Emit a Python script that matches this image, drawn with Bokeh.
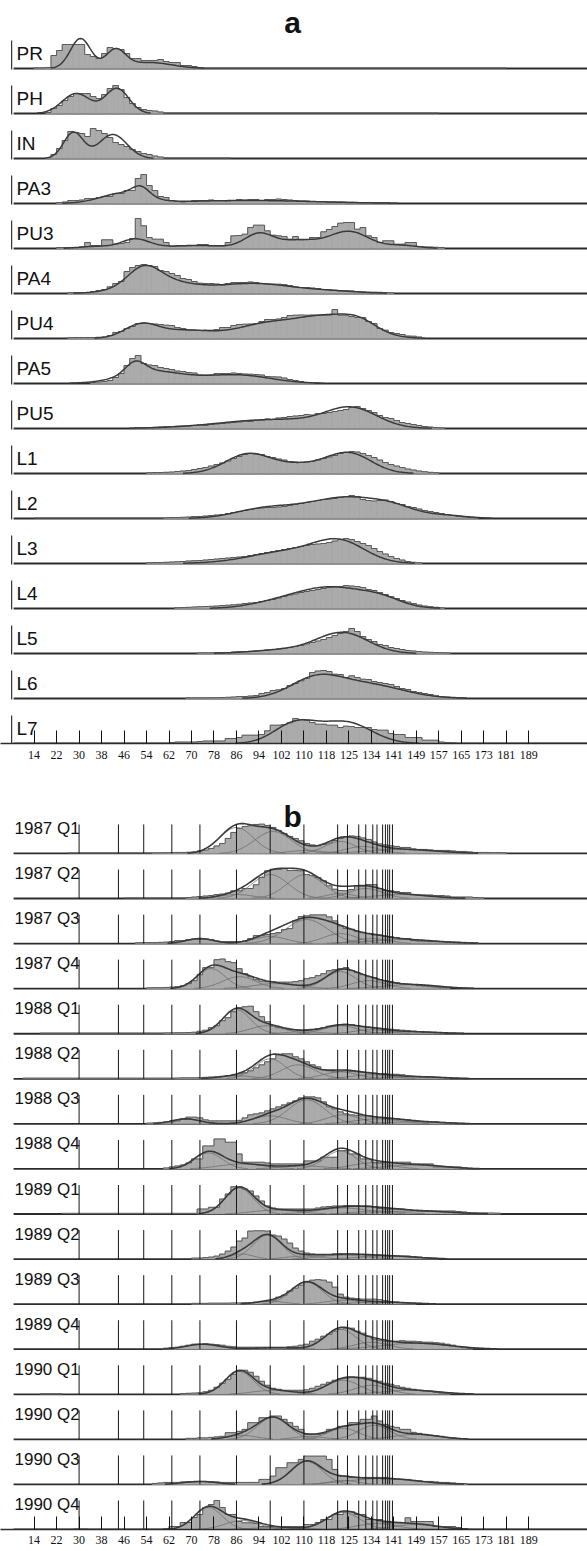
import numpy as np
from bokeh.plotting import figure
from bokeh.layouts import column
from bokeh.models import Range1d, FixedTicker
from bokeh.embed import file_html
from bokeh.resources import INLINE
from bokeh.core.properties import value

# ---------------------------------------------------------------
# Length-frequency data: 2-unit length bins, bar heights in px units.
# Each row: first bin edge, bin heights, fitted normal components
# (mean, sd, peak height).
# ---------------------------------------------------------------
BIN = 2.0

TICKS = [14, 22, 30, 38, 46, 54, 62, 70, 78, 86, 94, 102, 110, 118,
         126, 134, 142, 150, 158, 166, 174, 182, 190]
TICK_LABELS = ["14", "22", "30", "38", "46", "54", "62", "70", "78", "86",
               "94", "102", "110", "118", "125", "134", "141", "149", "157",
               "165", "173", "181", "189"]

# ---- panel a: length distributions by stage ----
PR_START = 14
PR_HIST = [0.6, 0.6, 1, 13, 18, 24, 24, 24, 24, 14, 12, 10, 15, 21, 20, 19, 15,
           10, 10, 8, 8, 8, 9, 7, 6, 6, 3, 3, 2, 1]
PR_FIT = [(30.5, 3.6, 30), (43, 3.5, 18), (55, 8, 6)]

PH_START = 18
PH_HIST = [1, 5, 8, 13, 17, 20, 20, 20, 17, 15, 19, 25, 28, 24, 16, 10, 6, 4,
           3, 2.5, 1.5]
PH_FIT = [(29, 5, 20), (43.5, 4.2, 25)]

IN_START = 18
IN_HIST = [0.8, 4, 10, 18, 27, 26, 25, 22, 30, 28, 25, 21, 16, 14, 12, 9, 7, 5,
           4, 2.5, 1.5]
IN_FIT = [(28, 3.5, 26), (42, 5, 24)]

PA3_START = 22
PA3_HIST = [1, 1.5, 3, 3, 3.5, 5, 5, 6, 7, 7, 10, 10, 13, 13, 25, 29, 18, 13, 7,
            6, 3, 2, 1.5, 2, 3, 3, 3, 3.5, 3, 3, 2.5, 3, 4, 3.5, 4, 4, 3, 4, 4,
            4.5, 4, 3.5, 3, 2.5, 2.5, 2, 2, 2, 1.5, 1.5, 1.5, 1.2, 1.2, 1, 1, 1,
            0.8, 0.8, 0.6]
PA3_FIT = [(52, 3, 9), (46, 8, 10), (90, 25, 3)]

PU3_START = 22
PU3_HIST = [1, 1, 1, 1, 1.5, 6, 3, 3, 8.7, 8.7, 4.3, 5, 6, 10, 30, 22.7, 11,
            9.3, 9.3, 6, 2, 2.5, 2.7, 2.7, 3, 4, 4, 2.7, 2.7, 2.7, 6, 12.7, 13,
            14.3, 21, 23.3, 23.3, 17.7, 13.3, 12.7, 12, 9.3, 12, 8.7, 9, 11, 11,
            16.7, 19, 22, 25.3, 26, 26, 19.3, 21, 12.7, 11, 6, 7.7, 7.7, 4.3,
            4.3, 6, 6, 2, 1.5, 1.5, 1.2, 1]
PU3_FIT = [(36, 6, 2), (50, 5, 9), (72, 12, 3), (94, 5, 14), (108, 7, 8),
           (126, 7, 17), (145, 6, 3)]

PA4_START = 26
PA4_HIST = [0.8, 1, 1, 1, 2, 3, 4, 6.7, 10, 12, 22, 26, 28, 29, 28, 27, 23, 22,
            20, 18, 15, 14, 12, 10.3, 10, 10, 9.5, 8.3, 10, 11, 11, 11, 11.5, 11,
            10, 9.5, 9.3, 9.3, 9, 8, 6.5, 6, 6, 5.5, 5, 4, 3.7, 3.2, 2.7, 2.7,
            2.5, 2, 1.5, 1.3, 1.3, 1.2, 1, 0.8]
PA4_FIT = [(53, 5.5, 16), (58, 11, 13), (92, 14, 10), (120, 10, 2)]

PU4_START = 26
PU4_HIST = [0.8, 1, 1, 1, 1, 1.2, 1.5, 3, 6, 7, 10, 12, 15, 15.5, 15, 14.5, 14,
            13.3, 13, 11, 10, 8.5, 8.3, 8, 8.3, 8.3, 9, 11, 11, 13, 14, 14.3,
            14.5, 15, 17, 19, 19, 19.5, 21, 23, 23.3, 23.5, 23.3, 23.5, 23.3,
            23.3, 23.5, 29, 23.3, 23.3, 22, 21, 21, 17, 15, 10, 8.3, 6, 5, 4,
            2.5, 2.3, 1.5]
PU4_FIT = [(52, 6, 13), (68, 10, 8), (95, 10, 12), (118, 12, 22), (130, 6, 8)]

PA5_START = 34
PA5_HIST = [1, 1.5, 2, 3, 6, 10, 18, 25, 28, 20, 18.5, 18, 16, 15, 14, 12.5, 12,
            11, 10.5, 8.5, 8.3, 8.5, 10, 10, 10, 10.5, 10, 9.5, 9.3, 9, 8.5, 7,
            6.7, 6.5, 5.5, 4, 3, 2, 1, 0.8]
PA5_FIT = [(50, 3.5, 12), (56, 11, 12), (86, 12, 8.5)]

PU5_START = 50
PU5_HIST = [0.8, 1, 1, 1.2, 1.5, 1.8, 2, 2.3, 2.5, 2.5, 3, 3.5, 3, 4, 4.5, 5,
            5.5, 6, 6.5, 7.5, 7, 8, 8.5, 9.5, 9, 10.5, 11, 12, 12.5, 13, 14, 13.5,
            15, 15, 16, 17, 18, 19, 21, 22, 20, 18, 16, 13, 11, 10, 8, 6, 5, 4,
            3, 2, 1.5, 1, 0.6]
PU5_FIT = [(100, 20, 9), (127, 9, 18)]

L1_START = 54
L1_HIST = [0.8, 1, 1, 1.2, 1.5, 2, 2.5, 3, 4, 5, 6, 7.5, 9, 10.5, 12.5, 15, 17,
           19, 20, 19.5, 19, 17, 16, 14.5, 13.5, 12, 11.5, 11, 11.5, 12, 13.5,
           15, 16.5, 18, 20, 21, 22, 21.5, 20, 18, 16, 13.5, 11, 9, 7.5, 6, 4.5,
           3.5, 2.5, 1.8, 1.2, 0.8]
L1_FIT = [(90, 8, 19), (108, 9, 8), (126, 8, 20)]

L2_START = 60
L2_HIST = [0.8, 1, 1, 1.2, 1.5, 2, 2, 2.5, 3, 3.5, 4, 5, 6, 7, 8, 9, 10, 10.5,
           11, 11, 11.5, 12, 13, 14, 15, 16, 17, 18, 19, 19.5, 20, 21, 22, 23,
           22, 19, 18, 17.5, 18, 18.5, 17, 15, 14, 12, 11, 9.5, 8, 7, 6, 5, 4,
           3, 2.2, 1.6, 1, 0.7]
L2_FIT = [(95, 10, 9), (112, 10, 9), (127, 10, 17), (142, 8, 10), (160, 8, 3)]

L3_START = 54
L3_HIST = [0.8, 1, 1, 1.2, 1.5, 1.8, 2, 2.5, 2.8, 3, 3.5, 4, 4.5, 5, 5.5, 6,
           6.5, 7, 8, 9, 10, 11, 12, 13, 14, 15, 16, 17, 18, 19, 19.5, 20, 21,
           22.5, 24, 25, 24, 22, 20, 18, 15, 12, 9.5, 7, 5, 3.5, 2, 1.2, 0.7]
L3_FIT = [(105, 14, 12), (123, 9, 19)]

L4_START = 64
L4_HIST = [0.8, 1, 1.2, 1.5, 1.8, 2, 2.2, 2.5, 3, 3.3, 3.7, 4.2, 5, 5.5, 6, 7,
           8, 9, 10.5, 12, 13.5, 14.5, 16, 17, 18, 19, 20, 21, 21.5, 22, 23,
           22.5, 22, 21, 19, 18, 16, 14, 12, 10, 8, 6.5, 5, 3.5, 2.5, 1.8, 1.2,
           0.7]
L4_FIT = [(100, 10, 4), (120, 13, 21), (138, 7, 6)]

L5_START = 72
L5_HIST = [0.6, 0.7, 0.7, 0.8, 0.8, 1, 1.5, 1.8, 2, 2.2, 2.5, 3, 3.5, 4, 4.5,
           5.2, 6, 7, 8, 9.5, 11, 12.5, 14, 16, 18, 20, 22, 25, 22, 17, 14, 12,
           9, 8, 6, 5, 4, 3, 2.5, 2, 1.5, 1.2, 1, 0.8, 0.6]
L5_FIT = [(105, 12, 4), (124, 9, 20)]

L6_START = 68
L6_HIST = [0.6, 0.7, 0.7, 0.7, 0.8, 0.8, 1, 1.2, 1.5, 2, 2, 2.5, 3, 5, 6, 8,
           8.7, 10, 13, 15, 17.7, 20, 26, 27.5, 28, 27, 24.3, 24, 21, 22.7, 21,
           19.3, 19, 17, 16, 15, 14, 12, 10, 9, 7, 6, 5, 4, 2.7, 2, 1.5, 1.2, 1,
           0.7]
L6_FIT = [(114, 9, 18), (132, 13, 14)]

L7_START = 62
L7_HIST = [1, 1.5, 1.5, 1.5, 1.5, 2, 2.5, 2.5, 2.5, 2.5, 5, 5, 6, 8.3, 8.3, 8.3,
           9, 12.7, 18.3, 18.3, 19, 20.7, 25, 24, 23.3, 21, 19.3, 19.3, 18.3,
           18.3, 16, 17.3, 17, 16, 16, 16, 14, 13.3, 13.3, 10, 9, 9, 6, 6, 6,
           3.3, 3.3, 3.3, 1.5, 1, 0.7]
L7_FIT = [(107, 7.5, 20), (125, 9, 21)]

A_LABELS = ["PR", "PH", "IN", "PA3", "PU3", "PA4", "PU4", "PA5", "PU5",
            "L1", "L2", "L3", "L4", "L5", "L6", "L7"]
# thin runs of very small counts beyond the main body of a row
A_TRACES = {"PR": (74, 182), "PH": (60, 158), "IN": (60, 84), "L2": (14, 60)}

# ---- panel b: quarterly length distributions with age components ----
Q1_1987_START = 56
Q1_1987_HIST = [0.6, 0.6, 0.7, 0.8, 1, 1, 1.2, 1.5, 2.5, 3.3, 5, 7.5, 10, 15,
                21, 25, 27, 27.7, 29, 29.3, 28, 26, 23, 20, 17, 15, 12.7, 10,
                8.5, 7.7, 9, 10.5, 13, 15, 16.5, 17.5, 17, 15.5, 14, 11.5, 9.5,
                8.5, 7.7, 7, 6, 6, 4.5, 4, 4, 3.5, 3, 3, 3, 2.5, 2, 2, 1.5, 1,
                1, 1, 0.8, 0.8, 0.7]
Q1_1987_FIT = [(86, 6, 26), (99, 6.5, 22), (111, 6, 3), (123, 5.5, 12),
               (131, 6, 7), (145, 12, 4)]

Q2_1987_START = 68
Q2_1987_HIST = [1, 1.5, 2, 2.5, 3, 4, 4.5, 5.5, 7.7, 7.7, 10, 10, 13.7, 21,
                27.7, 29.3, 29.3, 30, 28, 28, 27.7, 24, 23, 21, 17.7, 12.7, 9.3,
                8, 7.7, 9, 12.7, 12.7, 14, 14, 10, 8, 7.7, 7, 6, 6, 4, 3.5, 3.5,
                3.5, 3, 3, 2.5, 1.5, 1.5, 1.5, 1.5, 1, 0.8]
Q2_1987_FIT = [(86, 6, 4), (98, 6.5, 24), (110.5, 6.5, 24), (123, 5, 5),
               (132, 6, 10), (145, 10, 4)]

Q3_1987_START = 50
Q3_1987_HIST = [0.8, 1, 1, 1, 1.2, 1.5, 2, 3, 3, 4, 4.5, 4.5, 4.5, 4, 2.5, 2, 2,
                2, 2, 2.5, 5, 8, 8, 9, 10, 11, 14, 15, 22.7, 27, 27.7, 28.7,
                28.7, 28.7, 26.7, 22.7, 17.7, 15, 14.3, 12, 11, 10, 8.7, 8.7,
                7.5, 6.7, 6, 5, 5, 3, 2.5, 2.5, 2, 2, 2, 1.7, 1.5, 1.5, 1.2, 1,
                0.8]
Q3_1987_FIT = [(73, 5, 5), (98, 6, 7), (111, 7.5, 24), (123, 6, 10),
               (134, 6, 5), (145, 12, 4)]

Q4_1987_START = 54
Q4_1987_HIST = [0.8, 1, 1, 1.2, 1.5, 2, 3, 5, 8, 14, 21, 21, 29, 29.6, 27, 26,
                20, 15, 12, 9, 7.5, 7, 7, 6.5, 6.5, 6.5, 7, 8, 10, 11, 13, 15,
                18, 19, 20, 21, 18, 16, 14, 12, 11, 9, 8, 7, 6, 5, 4.5, 4, 3,
                2.5, 2, 1.5, 1, 0.8]
Q4_1987_FIT = [(77, 5, 20), (87, 6, 12), (100, 8, 5), (123, 5.5, 17),
               (133, 6, 8), (148, 10, 4)]

Q1_1988_START = 60
Q1_1988_HIST = [0.8, 0.8, 1, 1, 1.2, 1.5, 2.5, 3.5, 6, 8, 13, 16, 22, 26, 27,
                27.5, 22, 17, 12, 8, 6, 5, 4, 4, 3.5, 4, 4.5, 5, 6, 7.5, 8, 9,
                9.5, 9, 8, 7, 6.5, 6, 5.5, 5, 4.5, 4, 3.5, 3, 2.5, 2, 1.5, 1.2,
                1, 0.8]
Q1_1988_FIT = [(86, 5, 24), (97, 6, 8), (110, 6, 2), (123, 6, 8), (134, 6, 4),
               (148, 10, 2)]

Q2_1988_START = 64
Q2_1988_HIST = [0.8, 1, 1, 1, 1.2, 1.5, 1.8, 2, 2.5, 3, 3.5, 5, 6, 8, 11, 14,
                17, 20, 24, 25, 25, 22, 20, 17, 14, 12, 9, 8, 7, 7.5, 8, 7.5, 7,
                6.5, 6, 5.5, 5, 5, 4.5, 4.5, 4, 3, 2.5, 2, 2, 2, 1.5, 1.2, 0.8]
Q2_1988_FIT = [(86, 6, 3), (98, 5.5, 20), (108, 6, 14), (123, 6, 7),
               (134, 7, 4), (150, 10, 2)]

Q3_1988_START = 54
Q3_1988_HIST = [0.8, 1, 1.5, 2, 2, 3, 5, 6.7, 6.7, 6, 4, 3, 3, 3, 3, 3, 3.5, 6,
                9, 10, 11, 13, 15, 17, 19, 21, 23, 26, 27, 27, 26, 22, 17, 15,
                12, 10, 9, 8.5, 8, 8, 7, 6, 5.5, 5, 5, 4.5, 4, 3, 2.5, 2, 2, 2,
                1.5, 1, 0.8]
Q3_1988_FIT = [(68, 5, 5), (98, 6, 8), (111, 6.5, 24), (124, 6, 9),
               (136, 8, 5), (150, 10, 2)]

Q4_1988_START = 60
Q4_1988_HIST = [1, 2, 3, 4, 6, 10, 10, 23, 23, 30, 30, 26.7, 26.7, 15, 6.7,
                6.7, 6.7, 6.7, 6, 5, 5, 5, 5, 5, 5, 8, 8, 8, 11.7, 11.7, 11.7,
                18.3, 18.3, 15, 15, 10, 10, 6.7, 6.7, 6.7, 6.7, 6.7, 6.7, 6.7,
                5, 5, 5, 5, 2, 2, 2, 2, 2, 1]
Q4_1988_FIT = [(76, 5, 16), (88, 8, 5), (110, 8, 3), (123, 5.5, 18),
               (134, 7, 6), (150, 10, 4)]

Q1_1989_START = 72
Q1_1989_HIST = [5, 5, 6.7, 6.7, 15, 20, 27.3, 27.3, 25, 23, 18, 13, 8, 6, 5, 5,
                5, 5, 5, 5, 5, 6, 7, 7.5, 8, 8, 8.5, 8.5, 8, 8, 8, 7, 5.5, 5, 5,
                5, 5, 4.5, 3.5, 3, 3, 3, 3, 3, 3, 3, 2.5, 2, 1.2, 1, 1, 1, 1,
                0.8]
Q1_1989_FIT = [(87, 5, 26), (100, 8, 4), (124, 9, 6), (136, 8, 3),
               (150, 12, 3)]

Q2_1989_START = 70
Q2_1989_HIST = [1, 1, 1.5, 2, 3, 5, 8, 12, 18, 21, 28, 28.3, 28.3, 28, 24, 23,
                20, 16, 11, 8, 6, 5, 4.5, 4.5, 4.5, 5, 5, 5, 5, 4.5, 4.5, 4, 4,
                4, 3.5, 3, 3, 3, 3, 2.5, 2, 1.5, 1, 0.8]
Q2_1989_FIT = [(88, 4, 5), (97, 5, 24), (110, 6, 3), (124, 8, 4), (140, 10, 3)]

Q3_1989_START = 70
Q3_1989_HIST = [0.8, 0.8, 0.8, 1, 1, 1, 1, 1.2, 1.2, 1.5, 1.5, 2, 2.5, 3, 4, 7,
                9, 13, 16, 19, 22, 24, 24.5, 24, 22, 17, 10, 7, 6, 5.5, 5, 5, 5,
                4.5, 3.5, 2.5, 2, 1.5, 1, 0.8]
Q3_1989_FIT = [(98, 5, 3), (111, 5.5, 22), (124, 6, 4), (138, 10, 2)]

Q4_1989_START = 60
Q4_1989_HIST = [1, 1.5, 2, 3, 4, 5, 5, 5.5, 5, 4.5, 4, 3, 2.5, 2, 2, 2, 2, 2, 2,
                2, 2, 2, 2.5, 3, 4, 5, 8, 10, 13, 15, 18, 20, 21, 21, 18, 16, 13,
                10, 9, 8, 8, 8, 8.5, 8, 8, 7.5, 7, 7, 6.5, 6, 5, 4, 2.5, 1.5,
                0.8]
Q4_1989_FIT = [(74, 6, 5), (100, 8, 1.5), (123, 5.5, 20), (134, 6, 7),
               (150, 12, 6)]

Q1_1990_START = 66
Q1_1990_HIST = [0.8, 1, 1.2, 1.5, 2.5, 4, 7, 11, 15, 20, 23, 24, 22, 18, 13, 9,
                6, 5, 4, 4, 4, 4, 4.5, 6, 8, 10, 12, 14, 15.5, 16, 17, 16.5, 17,
                16, 14, 13, 11, 10, 8.5, 7, 6, 5, 4, 3.5, 3, 2, 1.2, 0.8]
Q1_1990_FIT = [(87, 5, 23), (99, 7, 4), (124, 6, 14), (134, 6, 9),
               (148, 10, 4)]

Q2_1990_START = 68
Q2_1990_HIST = [1, 1, 1.5, 1.5, 2, 2.5, 3, 6.7, 6.7, 8, 10, 16.7, 16.7, 21.7,
                21.7, 23.3, 23.3, 20, 16.7, 13, 10, 5, 5, 5, 6, 10, 10, 13, 13,
                16.7, 16.7, 20, 20, 23.3, 18.3, 15, 13, 12, 10, 10, 7, 6, 5, 4,
                3.5, 3, 2, 1.5, 1, 0.8]
Q2_1990_FIT = [(88, 5, 4), (99, 5.5, 22), (112, 5, 3), (124, 5.5, 11),
               (135, 5.5, 14), (150, 8, 5)]

Q3_1990_START = 56
Q3_1990_HIST = [1, 1.5, 2, 2, 2, 2.5, 2.5, 2.5, 3, 3, 2.5, 2.5, 2, 2, 2, 2, 2,
                2, 2, 5, 5, 8.3, 16.7, 16.7, 21.7, 21.7, 25, 28.3, 28.3, 28.3,
                28.3, 25, 15, 8.3, 8.3, 7, 7, 7, 7, 7, 7, 7, 6, 5, 5, 5, 4, 3.5,
                3, 3, 2.5, 2, 2, 1.5, 1, 0.8]
Q3_1990_FIT = [(73, 6, 3), (111, 5.5, 23), (124, 5, 4), (138, 12, 6)]

Q4_1990_START = 60
Q4_1990_HIST = [1, 3, 3, 7, 7, 12, 15, 22, 25, 29, 22, 15, 15, 8, 6.7, 6.7, 6,
                3, 3, 3, 3, 3, 3, 3, 3, 5, 5, 7, 10, 10, 15, 15, 17.7, 17.7, 15,
                15, 10, 10, 10, 6.7, 6.7, 6.7, 6.7, 11.7, 8, 8, 8, 8, 3, 3, 3, 3,
                2, 1]
Q4_1990_FIT = [(76, 5, 22), (88, 6, 9), (100, 8, 2), (124, 6, 17), (136, 7, 6),
               (150, 8, 5)]

B_LABELS = ["1987 Q1", "1987 Q2", "1987 Q3", "1987 Q4",
            "1988 Q1", "1988 Q2", "1988 Q3", "1988 Q4",
            "1989 Q1", "1989 Q2", "1989 Q3", "1989 Q4",
            "1990 Q1", "1990 Q2", "1990 Q3", "1990 Q4"]
B_TRACES = {"1987 Q1": (26, 56), "1987 Q2": (46, 68), "1988 Q1": (16, 60),
            "1988 Q2": (10, 64), "1989 Q1": (24, 72), "1990 Q1": (16, 24),
            "1990 Q4": (28, 33)}

# mean length at age used as reference marks in panel b
AGE_LENGTHS = [30, 44, 53, 63, 73, 86, 98, 110, 122, 125.5, 129.5, 132, 134.5,
               136, 138, 139, 139.8, 140.5, 141.5]

A_ROWS = [(PR_START, PR_HIST, PR_FIT), (PH_START, PH_HIST, PH_FIT),
          (IN_START, IN_HIST, IN_FIT), (PA3_START, PA3_HIST, PA3_FIT),
          (PU3_START, PU3_HIST, PU3_FIT), (PA4_START, PA4_HIST, PA4_FIT),
          (PU4_START, PU4_HIST, PU4_FIT), (PA5_START, PA5_HIST, PA5_FIT),
          (PU5_START, PU5_HIST, PU5_FIT), (L1_START, L1_HIST, L1_FIT),
          (L2_START, L2_HIST, L2_FIT), (L3_START, L3_HIST, L3_FIT),
          (L4_START, L4_HIST, L4_FIT), (L5_START, L5_HIST, L5_FIT),
          (L6_START, L6_HIST, L6_FIT), (L7_START, L7_HIST, L7_FIT)]

B_ROWS = [(Q1_1987_START, Q1_1987_HIST, Q1_1987_FIT),
          (Q2_1987_START, Q2_1987_HIST, Q2_1987_FIT),
          (Q3_1987_START, Q3_1987_HIST, Q3_1987_FIT),
          (Q4_1987_START, Q4_1987_HIST, Q4_1987_FIT),
          (Q1_1988_START, Q1_1988_HIST, Q1_1988_FIT),
          (Q2_1988_START, Q2_1988_HIST, Q2_1988_FIT),
          (Q3_1988_START, Q3_1988_HIST, Q3_1988_FIT),
          (Q4_1988_START, Q4_1988_HIST, Q4_1988_FIT),
          (Q1_1989_START, Q1_1989_HIST, Q1_1989_FIT),
          (Q2_1989_START, Q2_1989_HIST, Q2_1989_FIT),
          (Q3_1989_START, Q3_1989_HIST, Q3_1989_FIT),
          (Q4_1989_START, Q4_1989_HIST, Q4_1989_FIT),
          (Q1_1990_START, Q1_1990_HIST, Q1_1990_FIT),
          (Q2_1990_START, Q2_1990_HIST, Q2_1990_FIT),
          (Q3_1990_START, Q3_1990_HIST, Q3_1990_FIT),
          (Q4_1990_START, Q4_1990_HIST, Q4_1990_FIT)]

# ---------------------------------------------------------------
# styling and layout
# ---------------------------------------------------------------
FILL = "#ababab"
BAR_LINE = "#a3a3a3"
EDGE = "#5a5a5a"
FIT_COLOR = "#3a3a3a"
COMP_COLOR = "#6e6e6e"
BASE_COLOR = "#2c2c2c"

X_START, X_END = 2.04, 210.9
BASE_X0 = 6.7      # where each row's base line begins
STUB_X = 6.0       # small left marker of the stage rows

ROW_STEP_A = 45.0
ROW_STEP_B = 45.07


def mixture(xs, comps):
    ys = np.zeros_like(xs)
    for m, s, h in comps:
        ys = ys + h * np.exp(-0.5 * ((xs - m) / s) ** 2)
    return ys


def cut_small(ys, floor=0.3):
    out = ys.copy()
    out[out < floor] = np.nan
    return out


def new_panel(height, frame_top, border_bottom, standoff):
    p = figure(width=587, height=height,
               x_range=Range1d(X_START, X_END), y_range=Range1d(0, frame_top),
               output_backend="svg", toolbar_location=None,
               min_border_left=0, min_border_right=0, min_border_top=0,
               min_border_bottom=border_bottom)
    p.outline_line_color = None
    p.background_fill_color = "white"
    p.border_fill_color = "white"
    p.grid.visible = False
    p.yaxis.visible = False
    ax = p.xaxis[0]
    ax.ticker = FixedTicker(ticks=TICKS)
    ax.major_label_overrides = dict(zip(TICKS, TICK_LABELS))
    ax.major_tick_in = 13
    ax.major_tick_out = 0
    ax.minor_tick_in = 0
    ax.minor_tick_out = 0
    ax.major_tick_line_color = "#111111"
    ax.major_tick_line_width = 1
    ax.axis_line_color = BASE_COLOR
    ax.axis_line_width = 1.6
    ax.major_label_standoff = standoff
    ax.major_label_text_font = "Liberation Serif"
    ax.major_label_text_font_size = "12px"
    ax.major_label_text_color = "#111111"
    return p


def draw_hist(p, base, start, hist):
    h = np.asarray(hist, dtype=float)
    lefts = start + BIN * np.arange(len(h))
    rights = lefts + BIN
    p.quad(left=lefts, right=rights, bottom=base, top=base + h,
           fill_color=FILL, line_color=BAR_LINE, line_width=0.6)
    end = rights[-1]
    sx = np.concatenate([[start], lefts, [end]])
    sy = np.concatenate([[base], base + h, [base]])
    p.step(x=sx, y=sy, mode="after", line_color=EDGE, line_width=1)
    return start, end


def draw_base(p, base, trace=None):
    p.segment(x0=[BASE_X0], y0=[base], x1=[X_END], y1=[base],
              line_color=BASE_COLOR, line_width=1.8)
    if trace is not None:
        p.segment(x0=[trace[0]], y0=[base + 0.6], x1=[trace[1]], y1=[base + 0.6],
                  line_color="#6a6a6a", line_width=1.4)


# ---------------------------- panel a ----------------------------
A_TOP = 743.0
pa = new_panel(776, A_TOP, 33, 7)
a_bases = [(15 - i) * ROW_STEP_A for i in range(16)]

for name, base, (start, hist, fit) in zip(A_LABELS, a_bases, A_ROWS):
    draw_base(p=pa, base=base, trace=A_TRACES.get(name))
    lo, hi = draw_hist(pa, base, start, hist)
    xs = np.arange(lo - 10, hi + 10, 0.5)
    pa.line(xs, base + cut_small(mixture(xs, fit)), line_color=FIT_COLOR,
            line_width=1.5)

pa.segment(x0=[STUB_X] * 16, y0=[b - 1 for b in a_bases],
           x1=[STUB_X] * 16, y1=[b + 28 for b in a_bases],
           line_color="#333333", line_width=1.2)
pa.text(x=[X_START] * 16, y=[b + 15 for b in a_bases], text=A_LABELS,
        x_offset=16, text_font=value("Liberation Sans"), text_font_size="19px",
        text_baseline="alphabetic", text_align="left", text_color="#111111")
pa.text(x=[106], y=[A_TOP - 22], text=["a"], text_font=value("Liberation Sans"),
        text_font_size="30px", text_font_style="bold", text_align="center",
        text_baseline="alphabetic", text_color="#111111")

# ---------------------------- panel b ----------------------------
B_TOP = 753.0
pb = new_panel(775, B_TOP, 22, 6)
b_bases = [(15 - i) * ROW_STEP_B for i in range(16)]

for name, base, (start, hist, fit) in zip(B_LABELS, b_bases, B_ROWS):
    draw_base(p=pb, base=base, trace=B_TRACES.get(name))
    lo, hi = draw_hist(pb, base, start, hist)
    xs = np.arange(lo - 10, hi + 10, 0.5)
    for comp in fit:
        pb.line(xs, base + cut_small(mixture(xs, [comp])),
                line_color=COMP_COLOR, line_width=0.8)
    pb.line(xs, base + cut_small(mixture(xs, fit)), line_color=FIT_COLOR,
            line_width=1.6)
    n = len(AGE_LENGTHS)
    pb.segment(x0=AGE_LENGTHS, y0=[base] * n, x1=AGE_LENGTHS, y1=[base + 29] * n,
               line_color="#161616", line_width=1)

pb.text(x=[X_START] * 16, y=[b + 25 for b in b_bases], text=B_LABELS,
        x_offset=14, text_font=value("Liberation Sans"), text_font_size="17px",
        text_baseline="alphabetic", text_align="left", text_color="#111111")
pb.text(x=[106], y=[B_TOP - 40], text=["b"], text_font=value("Liberation Sans"),
        text_font_size="30px", text_font_style="bold", text_align="center",
        text_baseline="alphabetic", text_color="#111111")

layout = column(pa, pb, spacing=0)
open("out.html", "w").write(file_html(layout, INLINE))
